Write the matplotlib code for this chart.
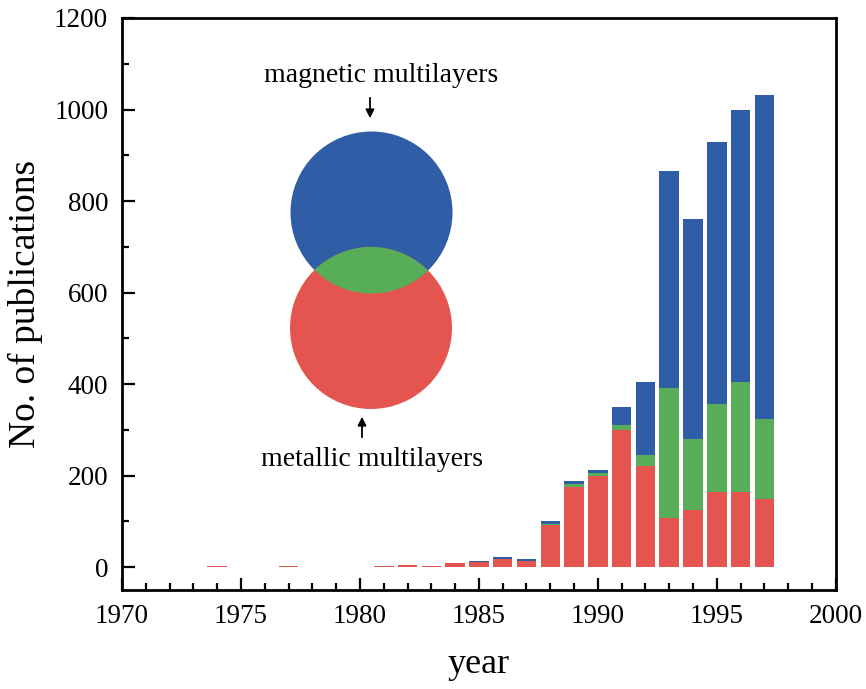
import matplotlib
matplotlib.use("Agg")
import matplotlib.pyplot as plt
from matplotlib.patches import Circle, FancyArrowPatch
from matplotlib.ticker import MultipleLocator

years = [1974, 1977, 1981, 1982, 1983, 1984, 1985, 1986, 1987, 1988,
         1989, 1990, 1991, 1992, 1993, 1994, 1995, 1996, 1997]
metallic_only = [3, 3, 3, 5, 3, 8, 12, 18, 13, 93,
                 176, 200, 300, 220, 108, 125, 164, 164, 148]
both = [0, 0, 0, 0, 0, 0, 0, 0, 0, 2,
        5, 5, 10, 24, 283, 154, 192, 240, 176]
magnetic_only = [0, 0, 0, 0, 0, 0, 1, 4, 4, 5,
                 7, 8, 40, 160, 474, 482, 572, 595, 707]

RED = "#E5554F"
GREEN = "#58AD58"
BLUE = "#2F5DA6"

plt.rcParams['font.family'] = ['Liberation Serif', 'DejaVu Serif']

fig = plt.figure(figsize=(8.66, 6.89), dpi=100)
ax = fig.add_axes([0.141, 0.1437, 0.824, 0.8302])

bottom2 = [a + b for a, b in zip(metallic_only, both)]
ax.bar(years, metallic_only, width=0.82, color=RED, linewidth=0)
ax.bar(years, both, width=0.82, bottom=metallic_only, color=GREEN, linewidth=0)
ax.bar(years, magnetic_only, width=0.82, bottom=bottom2, color=BLUE, linewidth=0)

ax.set_xlim(1970, 2000)
ax.set_ylim(-50, 1200)
ax.xaxis.set_major_locator(MultipleLocator(5))
ax.xaxis.set_minor_locator(MultipleLocator(1))
ax.yaxis.set_major_locator(MultipleLocator(200))
ax.yaxis.set_minor_locator(MultipleLocator(100))
ax.tick_params(which='both', direction='in', top=False, right=False, width=1.6,
               labelsize=19.5)
ax.tick_params(which='major', length=9, pad=10)
ax.tick_params(which='minor', length=5)
for s in ax.spines.values():
    s.set_linewidth(2.0)

ax.set_xlabel("year", fontsize=26, labelpad=14)
ax.set_ylabel("No. of publications", fontsize=27, labelpad=8)

# Venn inset (pixel-based figure coordinates)
W, H = 866, 689
x0, y0, x1, y1 = 270, 110, 470, 430
iax = fig.add_axes([x0 / W, 1 - y1 / H, (x1 - x0) / W, (y1 - y0) / H])
iax.set_xlim(x0, x1)
iax.set_ylim(y1, y0)
iax.set_aspect('equal')
iax.axis('off')
r = 81
bc = (371.5, 212.5)
rc = (371.0, 328.0)
iax.add_patch(Circle(bc, r, color=BLUE, lw=0))
iax.add_patch(Circle(rc, r, color=RED, lw=0))
green_c = Circle(rc, r, color=GREEN, lw=0)
iax.add_patch(green_c)
green_c.set_clip_path(Circle(bc, r, transform=iax.transData))

fig.text(381 / W, 1 - 76 / H, "magnetic multilayers", ha='center', va='center', fontsize=20)
fig.text(372 / W, 1 - 460 / H, "metallic multilayers", ha='center', va='center', fontsize=20)
fig.patches.append(FancyArrowPatch(
    (370 / W, 1 - 95 / H), (370 / W, 1 - 121 / H), transform=fig.transFigure,
    arrowstyle='-|>,head_length=5,head_width=2.5', color='black', lw=1.3))
fig.patches.append(FancyArrowPatch(
    (362 / W, 1 - 440 / H), (362 / W, 1 - 414 / H), transform=fig.transFigure,
    arrowstyle='-|>,head_length=5,head_width=2.5', color='black', lw=1.3))

fig.savefig("out.png", dpi=100)
